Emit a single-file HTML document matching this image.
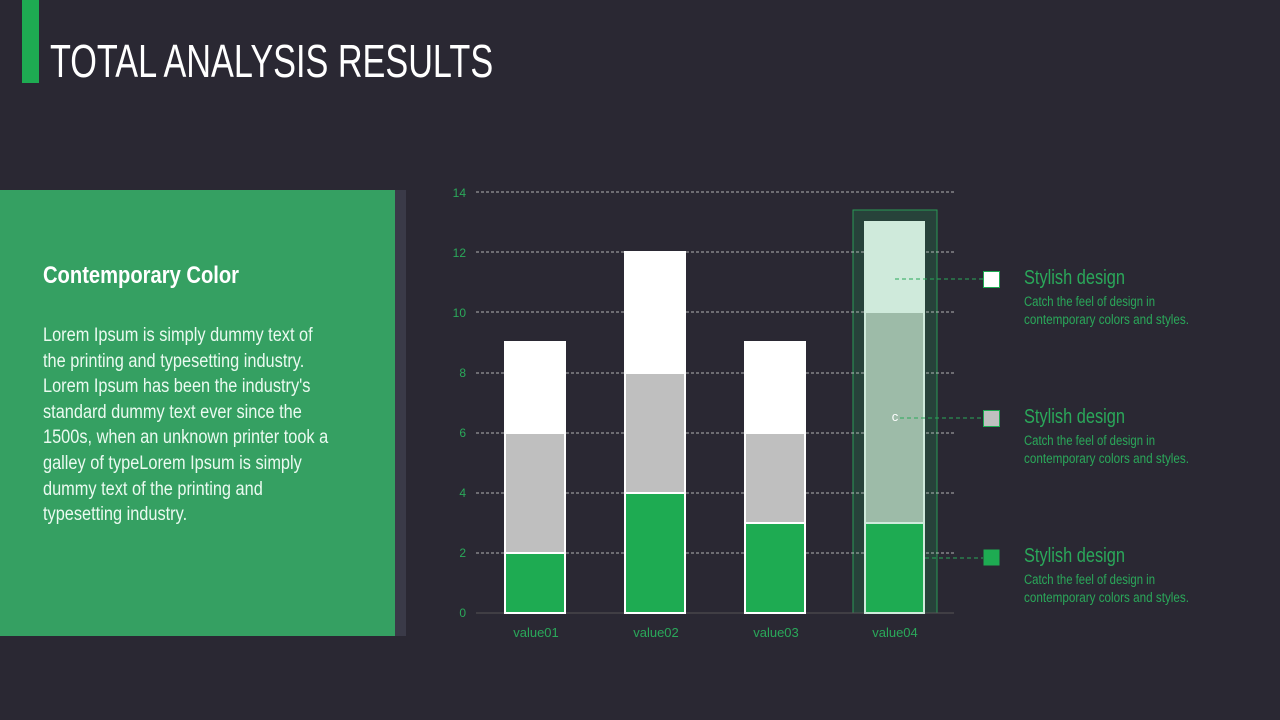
<!DOCTYPE html><html><head><meta charset="utf-8"><style>
body{margin:0;width:1280px;height:720px;background:#2a2833;overflow:hidden;position:relative;font-family:"Liberation Sans",sans-serif;}
.a{position:absolute}
.l{white-space:nowrap;transform-origin:0 0;}
</style></head><body>
<div class="a" style="left:22px;top:0;width:17px;height:83px;background:#1eab52"></div>
<div class="a l" style="left:50px;top:34px;font-size:46px;color:#fff;transform:scaleX(0.744)">TOTAL ANALYSIS RESULTS</div>
<div class="a" style="left:0;top:190px;width:395px;height:446px;background:#35a062"></div>
<div class="a" style="left:395px;top:190px;width:11px;height:446px;background:#3a3a48"></div>
<div class="a l" style="left:43px;top:262px;font-size:24px;font-weight:bold;color:#fff;transform:scaleX(0.84)">Contemporary Color</div>
<div class="a" style="left:43px;top:323px;font-size:19px;line-height:25.6px;color:#eafaf0">
<div class="l" style="transform:scaleX(0.86)">Lorem Ipsum is simply dummy text of</div>
<div class="l" style="transform:scaleX(0.86)">the printing and typesetting industry.</div>
<div class="l" style="transform:scaleX(0.86)">Lorem Ipsum has been the industry's</div>
<div class="l" style="transform:scaleX(0.86)">standard dummy text ever since the</div>
<div class="l" style="transform:scaleX(0.86)">1500s, when an unknown printer took a</div>
<div class="l" style="transform:scaleX(0.86)">galley of typeLorem Ipsum is simply</div>
<div class="l" style="transform:scaleX(0.86)">dummy text of the printing and</div>
<div class="l" style="transform:scaleX(0.86)">typesetting industry.</div>
</div>
<svg class="a" style="left:0;top:0" width="1280" height="720">
<g font-family="Liberation Sans,sans-serif" font-size="12" fill="#2aa85a" text-anchor="end">
<text x="466" y="197">14</text><text x="466" y="257">12</text><text x="466" y="317">10</text><text x="466" y="377">8</text><text x="466" y="437">6</text><text x="466" y="497">4</text><text x="466" y="557">2</text><text x="466" y="617">0</text></g>
<rect x="853" y="210" width="84" height="403" fill="#27423a" stroke="#2a9a56"/>
<g stroke="#ddd" stroke-dasharray="3,2" stroke-width="0.8">
<line x1="476" x2="954" y1="192" y2="192"/><line x1="476" x2="954" y1="252" y2="252"/><line x1="476" x2="954" y1="312" y2="312"/><line x1="476" x2="954" y1="373" y2="373"/><line x1="476" x2="954" y1="433" y2="433"/><line x1="476" x2="954" y1="493" y2="493"/><line x1="476" x2="954" y1="553" y2="553"/></g>
<line x1="476" x2="954" y1="613" y2="613" stroke="#555"/>
<g stroke="#fff" stroke-width="2">
<rect x="505" y="342" width="60" height="91" fill="#fff"/><rect x="505" y="433" width="60" height="120" fill="#bfbfbf"/><rect x="505" y="553" width="60" height="60" fill="#1eab52"/>
<rect x="625" y="252" width="60" height="121" fill="#fff"/><rect x="625" y="373" width="60" height="120" fill="#bfbfbf"/><rect x="625" y="493" width="60" height="120" fill="#1eab52"/>
<rect x="745" y="342" width="60" height="91" fill="#fff"/><rect x="745" y="433" width="60" height="90" fill="#bfbfbf"/><rect x="745" y="523" width="60" height="90" fill="#1eab52"/>
</g>
<g stroke="#cfeadb" stroke-width="2">
<rect x="865" y="222" width="59" height="90" fill="#cfeadb"/><rect x="865" y="312" width="59" height="211" fill="#9dbba8"/><rect x="865" y="523" width="59" height="90" fill="#1eab52"/></g>
<g font-family="Liberation Sans,sans-serif" font-size="13" fill="#2aa85a" text-anchor="middle">
<text x="536" y="637">value01</text><text x="656" y="637">value02</text><text x="776" y="637">value03</text><text x="895" y="637">value04</text></g>
<g stroke="#2aa85a" stroke-dasharray="4,3"><line x1="895" x2="983" y1="279" y2="279"/><line x1="900" x2="983" y1="418" y2="418"/><line x1="925" x2="983" y1="558" y2="558"/></g>
<text x="895" y="421" font-size="13" fill="#fff" text-anchor="middle" font-family="Liberation Sans,sans-serif">c</text>
<rect x="983.5" y="271.5" width="16" height="16" fill="#fff" stroke="#1eab52"/>
<rect x="983.5" y="410.5" width="16" height="16" fill="#c0c0c0" stroke="#1eab52"/>
<rect x="983.5" y="549.5" width="16" height="16" fill="#1eab52"/>
<g font-family="Liberation Sans,sans-serif" fill="#2aa85a">
<text x="1024" y="284" font-size="20" textLength="101" lengthAdjust="spacingAndGlyphs">Stylish design</text><text x="1024" y="306" font-size="13.5" textLength="131" lengthAdjust="spacingAndGlyphs">Catch the feel of design in</text><text x="1024" y="324" font-size="13.5" textLength="165" lengthAdjust="spacingAndGlyphs">contemporary colors and styles.</text>
<text x="1024" y="423" font-size="20" textLength="101" lengthAdjust="spacingAndGlyphs">Stylish design</text><text x="1024" y="445" font-size="13.5" textLength="131" lengthAdjust="spacingAndGlyphs">Catch the feel of design in</text><text x="1024" y="463" font-size="13.5" textLength="165" lengthAdjust="spacingAndGlyphs">contemporary colors and styles.</text>
<text x="1024" y="562" font-size="20" textLength="101" lengthAdjust="spacingAndGlyphs">Stylish design</text><text x="1024" y="584" font-size="13.5" textLength="131" lengthAdjust="spacingAndGlyphs">Catch the feel of design in</text><text x="1024" y="602" font-size="13.5" textLength="165" lengthAdjust="spacingAndGlyphs">contemporary colors and styles.</text>
</g></svg>
</body></html>
